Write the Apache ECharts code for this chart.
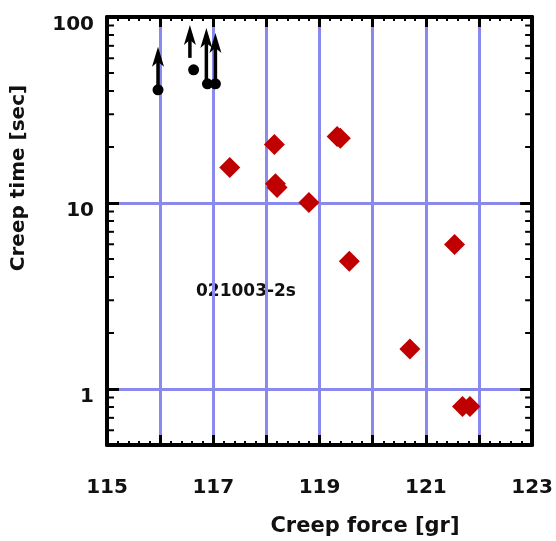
<!DOCTYPE html>
<html>
<head>
<meta charset="utf-8">
<script src="https://cdn.jsdelivr.net/npm/echarts@6/dist/echarts.min.js"></script>
<style>html,body{margin:0;padding:0;background:#fff;}#c{width:556px;height:541px;}</style>
</head>
<body>
<div id="c"></div>
<script>
// ---- data ----
const xMin = 115, xMax = 123;
const yMin = 0.5, yMax = 100;
const xTickLabels = [115, 117, 119, 121, 123];
const yTickLabels = [1, 10, 100];
const yMinorTicks = [0.6, 0.7, 0.8, 0.9, 2, 3, 4, 5, 6, 7, 8, 9, 20, 30, 40, 50, 60, 70, 80, 90];

const forceMeasured = [117.31, 118.15, 118.17, 118.20, 118.80, 119.33, 119.39, 119.56, 120.70, 121.54, 121.69, 121.83];
const timeMeasured  = [15.5, 20.6, 12.7, 12.1, 10.07, 22.8, 22.3, 4.86, 1.64, 5.99, 0.805, 0.805];

const forceCensored = [115.96, 116.63, 116.89, 117.04];
const timeCensored  = [40.6, 52.0, 43.7, 43.7];

const arrowForce = [115.96, 116.56, 116.87, 117.04];
const arrowFrom  = [42.7, 60.3, 45.9, 45.9];
const arrowTo    = [69.1, 90.6, 87.3, 82.1];

const annotation = '021003-2s';
const xTitle = 'Creep force [gr]';
const yTitle = 'Creep time [sec]';

// ---- chart ----
const FONT = 'DejaVu Sans';
const chart = echarts.init(document.getElementById('c'), null, {renderer: 'canvas'});

const axisLineStyle = {show: true, lineStyle: {color: '#000', width: 4}};
const gridColor = '#8a8aee';

const xCommon = {
  type: 'value', min: xMin, max: xMax, interval: 1,
  axisLine: axisLineStyle,
  axisTick: {show: true, inside: true, length: 10, lineStyle: {color: '#000', width: 3}},
  minorTick: {show: true, splitNumber: 5, length: 4, lineStyle: {color: '#000', width: 2}},
};
const yCommon = {
  type: 'log', logBase: 10, min: yMin, max: yMax,
  axisLine: axisLineStyle,
  axisTick: {show: true, inside: true, length: 12, lineStyle: {color: '#000', width: 3}},
};

chart.setOption({
  animation: false,
  backgroundColor: '#fff',
  grid: {left: 107, right: 21, top: 17, bottom: 96, containLabel: false},
  xAxis: [
    Object.assign({}, xCommon, {
      position: 'bottom',
      splitLine: {show: true, lineStyle: {color: gridColor, width: 3}},
      axisLabel: {
        show: true, margin: 33, color: '#111',
        fontFamily: FONT, fontWeight: 'bold', fontSize: 20,
        formatter: v => xTickLabels.indexOf(Math.round(v)) >= 0 && Math.abs(v - Math.round(v)) < 1e-6 ? String(Math.round(v)) : ''
      }
    }),
    Object.assign({}, xCommon, {
      position: 'top',
      splitLine: {show: false},
      axisLabel: {show: false}
    })
  ],
  yAxis: [
    Object.assign({}, yCommon, {
      position: 'left',
      splitLine: {show: true, lineStyle: {color: gridColor, width: 3}},
      axisLabel: {
        show: true, margin: 13, color: '#111',
        verticalAlign: 'top', lineHeight: 16,
        fontFamily: FONT, fontWeight: 'bold', fontSize: 20,
        formatter: v => {
          const r = yTickLabels.find(t => Math.abs(t - v) / t < 1e-6);
          return r !== undefined ? String(r) : '';
        }
      }
    }),
    Object.assign({}, yCommon, {
      position: 'right',
      splitLine: {show: false},
      axisLabel: {show: false}
    })
  ],
  graphic: [
    {type: 'text', left: 196, top: 283, style: {text: annotation, fill: '#111', font: 'bold 17px "DejaVu Sans"'}},
    {type: 'text', x: 365, y: 527, style: {text: xTitle, fill: '#111', font: 'bold 21px "DejaVu Sans"', align: 'center', verticalAlign: 'middle'}},
    {type: 'text', x: 19, y: 178, rotation: Math.PI / 2, style: {text: yTitle, fill: '#111', font: 'bold 20px "DejaVu Sans"', align: 'center', verticalAlign: 'middle'}}
  ],
  series: [
    {
      type: 'custom', name: 'minorY', silent: true, z: 5,
      xAxisIndex: 0, yAxisIndex: 0,
      data: yMinorTicks.map(v => [xMin, v]),
      renderItem: (params, api) => {
        const v = api.value(1);
        const l = api.coord([xMin, v]);
        const r = api.coord([xMax, v]);
        return {type: 'group', children: [
          {type: 'line', shape: {x1: l[0], y1: l[1], x2: l[0] + 7, y2: l[1]}, style: {stroke: '#000', lineWidth: 2}},
          {type: 'line', shape: {x1: r[0] - 7, y1: r[1], x2: r[0], y2: r[1]}, style: {stroke: '#000', lineWidth: 2}}
        ]};
      }
    },
    {
      type: 'custom', name: 'arrows', silent: true, z: 4,
      data: arrowForce.map((f, i) => [f, arrowFrom[i], arrowTo[i]]),
      encode: {x: 0, y: [1, 2]},
      renderItem: (params, api) => {
        const p0 = api.coord([api.value(0), api.value(1)]);
        const p1 = api.coord([api.value(0), api.value(2)]);
        const h = 20, w = 12;
        return {type: 'group', children: [
          {type: 'line', shape: {x1: p0[0], y1: p0[1], x2: p1[0], y2: p1[1] + h * 0.6}, style: {stroke: '#000', lineWidth: 3.5}},
          {type: 'polygon', shape: {points: [[p1[0], p1[1]], [p1[0] + w / 2, p1[1] + h], [p1[0], p1[1] + h * 0.75], [p1[0] - w / 2, p1[1] + h]]}, style: {fill: '#000'}}
        ]};
      }
    },
    {
      type: 'scatter', name: 'censored', silent: true, z: 4,
      symbol: 'circle', symbolSize: 11,
      itemStyle: {color: '#000', opacity: 1},
      data: forceCensored.map((f, i) => [f, timeCensored[i]])
    },
    {
      type: 'scatter', name: 'measured', silent: true, z: 4,
      symbol: 'diamond', symbolSize: [21, 21],
      itemStyle: {color: '#c00000', opacity: 1},
      data: forceMeasured.map((f, i) => [f, timeMeasured[i]])
    }
  ]
});
</script>
</body>
</html>
